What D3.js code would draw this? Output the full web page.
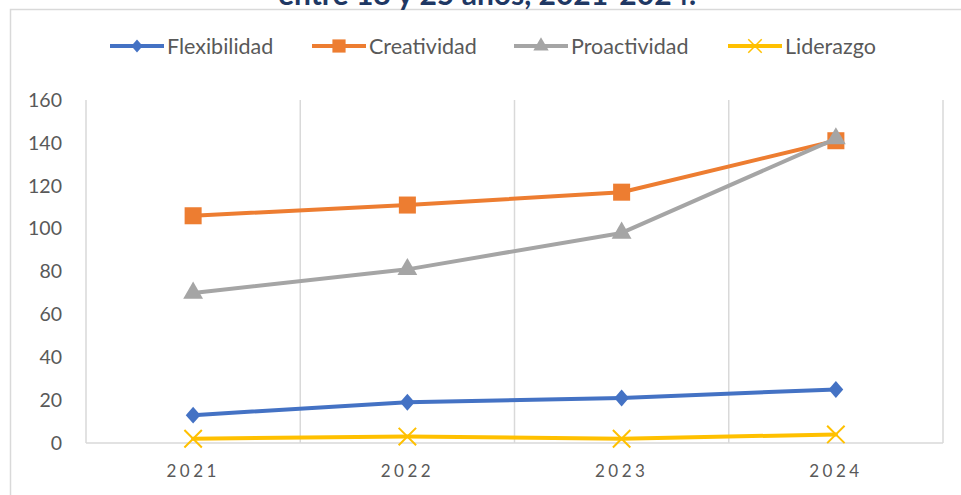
<!DOCTYPE html>
<html>
<head>
<meta charset="utf-8">
<script src="https://cdn.jsdelivr.net/npm/d3@7.9.0/dist/d3.min.js"></script>
<style>
  html, body { margin: 0; padding: 0; background: #fff; }
  svg { display: block; }
  text { font-family: Lato, "Open Sans", sans-serif; fill: #595959; }
</style>
</head>
<body>
<div id="chart"></div>
<script>
// -------- data --------
const years = ['2021', '2022', '2023', '2024'];
const flexibilidad = [13, 19, 21, 25];
const creatividad = [106, 111, 117, 141];
const proactividad = [70, 81, 98, 142];
const liderazgo = [2, 3, 2, 4];
const yTicks = [0, 20, 40, 60, 80, 100, 120, 140, 160];
const title = 'entre 18 y 25 años, 2021-2024.';

const series = [
  { name: 'Flexibilidad', values: flexibilidad, color: '#4472C4', symbol: 'diamond' },
  { name: 'Creatividad', values: creatividad, color: '#ED7D31', symbol: 'square' },
  { name: 'Proactividad', values: proactividad, color: '#A5A5A5', symbol: 'triangle' },
  { name: 'Liderazgo', values: liderazgo, color: '#FFC000', symbol: 'cross' }
];

// -------- layout --------
const width = 961;
const height = 495;
const plot = { left: 86, right: 943, top: 100, bottom: 443 };

const svg = d3.select('#chart').append('svg')
  .attr('width', width)
  .attr('height', height);

// outer chart border (runs off the picture right and bottom)
svg.append('rect')
  .attr('x', 10.5).attr('y', 9.5)
  .attr('width', 1000).attr('height', 1000)
  .attr('fill', 'none')
  .attr('stroke', '#d9d9d9')
  .attr('stroke-width', 1.5);

// title, mostly cut off at the top like in the source
svg.append('text')
  .attr('x', 487).attr('y', 5)
  .attr('text-anchor', 'middle')
  .style('font-family', 'Lato, sans-serif')
  .style('font-size', '30px')
  .style('font-weight', 'bold')
  .style('fill', '#1F3864')
  .text(title);

const x = d3.scaleBand().domain(years).range([plot.left, plot.right]);
const cx = d => x(d) + x.bandwidth() / 2;
const y = d3.scaleLinear().domain([0, 160]).range([plot.bottom, plot.top]);

// vertical gridlines at category boundaries
const bounds = years.map(d => x(d)).concat([plot.right]);
svg.append('g').attr('class', 'gridlines')
  .selectAll('line')
  .data(bounds)
  .join('line')
  .attr('x1', d => d).attr('x2', d => d)
  .attr('y1', plot.top).attr('y2', plot.bottom)
  .attr('stroke', '#d9d9d9')
  .attr('stroke-width', 1.5);

// x axis
const xAxis = svg.append('g')
  .attr('class', 'x-axis')
  .attr('transform', `translate(0, ${plot.bottom})`)
  .call(d3.axisBottom(x).tickSize(0).tickPadding(22));
xAxis.select('.domain').attr('stroke', '#d9d9d9').attr('stroke-width', 1.5)
  .attr('d', `M${plot.left},0H${plot.right}`);
xAxis.selectAll('text')
  .style('font-family', 'Lato, sans-serif')
  .style('font-size', '17px')
  .style('letter-spacing', '3.5px')
  .style('fill', '#595959');

// y axis (labels only)
const yAxis = svg.append('g')
  .attr('class', 'y-axis')
  .attr('transform', `translate(${plot.left}, 0)`)
  .call(d3.axisLeft(y).tickValues(yTicks).tickSize(0).tickPadding(24));
yAxis.select('.domain').remove();
yAxis.selectAll('text')
  .style('font-family', 'Lato, sans-serif')
  .style('font-size', '19.5px')
  .style('fill', '#595959');

// -------- lines + markers --------
const line = d3.line()
  .x((d, i) => cx(years[i]))
  .y(d => y(d));

// wide diamond like the Excel marker
const wideDiamond = {
  draw(ctx, size) {
    const w = Math.sqrt(size) * 0.52, h = Math.sqrt(size) * 0.6;
    ctx.moveTo(0, -h); ctx.lineTo(w, 0); ctx.lineTo(0, h); ctx.lineTo(-w, 0); ctx.closePath();
  }
};
const symbolType = {
  diamond: wideDiamond,
  square: d3.symbolSquare,
  triangle: d3.symbolTriangle,
  cross: d3.symbolX
};
const symbolSize = { diamond: 200, square: 290, triangle: 170, cross: 200 };

const lines = svg.append('g').attr('class', 'series');
series.forEach(s => {
  lines.append('path')
    .datum(s.values)
    .attr('d', line)
    .attr('fill', 'none')
    .attr('stroke', s.color)
    .attr('stroke-width', 4)
    .attr('stroke-linejoin', 'round')
    .attr('stroke-linecap', 'round');

  const sym = d3.symbol().type(symbolType[s.symbol]).size(symbolSize[s.symbol]);
  lines.append('g')
    .selectAll('path')
    .data(s.values)
    .join('path')
    .attr('transform', (d, i) => `translate(${cx(years[i])}, ${y(d)})`)
    .attr('d', sym())
    .attr('fill', s.symbol === 'cross' ? 'none' : s.color)
    .attr('stroke', s.symbol === 'cross' ? s.color : 'none')
    .attr('stroke-width', 2);
});

// -------- legend --------
const legendX = [110, 312, 514, 728];
const legend = svg.append('g').attr('class', 'legend');
series.forEach((s, i) => {
  const g = legend.append('g').attr('transform', `translate(${legendX[i]}, 46)`);
  g.append('line')
    .attr('x1', 0).attr('x2', 54)
    .attr('stroke', s.color)
    .attr('stroke-width', 4);
  const sym = d3.symbol().type(symbolType[s.symbol]).size(symbolSize[s.symbol] * 0.6);
  g.append('path')
    .attr('transform', 'translate(27, 0)')
    .attr('d', sym())
    .attr('fill', s.symbol === 'cross' ? 'none' : s.color)
    .attr('stroke', s.symbol === 'cross' ? s.color : 'none')
    .attr('stroke-width', 1.5);
  g.append('text')
    .attr('x', 57).attr('y', 0)
    .attr('dy', '0.35em')
    .style('font-size', '21.5px')
    .text(s.name);
});
</script>
</body>
</html>
